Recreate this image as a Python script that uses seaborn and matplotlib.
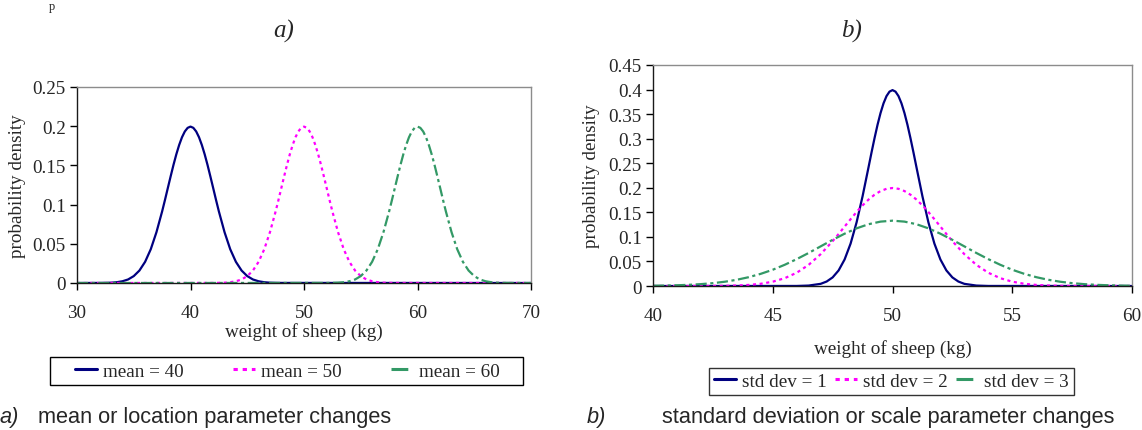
import numpy as np
import pandas as pd
import matplotlib
matplotlib.use("Agg")
import matplotlib.pyplot as plt
import seaborn as sns
from matplotlib.ticker import FuncFormatter, MultipleLocator
from matplotlib.lines import Line2D
from matplotlib.patches import Rectangle

# ---------------- data ----------------
# Panel a: normal curves with sd = 2, means 40 / 50 / 60
density_sd2 = [0, 0.0001, 0.0002, 0.0004, 0.0010, 0.0022, 0.0045, 0.0088, 0.0159, 0.0270,
               0.0431, 0.0648, 0.0913, 0.1059, 0.1210, 0.1360, 0.1506, 0.1641, 0.1760, 0.1859,
               0.1933, 0.1979, 0.1995, 0.1979, 0.1933, 0.1859, 0.1760, 0.1641, 0.1506, 0.1360,
               0.1210, 0.1059, 0.0913, 0.0648, 0.0431, 0.0270, 0.0159, 0.0088, 0.0045, 0.0022,
               0.0010, 0.0004, 0.0002, 0.0001, 0]

weight_mean40 = [30, 32, 32.5, 33, 33.5, 34, 34.5, 35, 35.5, 36,
                 36.5, 37, 37.5, 37.75, 38, 38.25, 38.5, 38.75, 39, 39.25,
                 39.5, 39.75, 40, 40.25, 40.5, 40.75, 41, 41.25, 41.5, 41.75,
                 42, 42.25, 42.5, 43, 43.5, 44, 44.5, 45, 45.5, 46,
                 46.5, 47, 47.5, 48, 70]
weight_mean50 = [30, 42, 42.5, 43, 43.5, 44, 44.5, 45, 45.5, 46,
                 46.5, 47, 47.5, 47.75, 48, 48.25, 48.5, 48.75, 49, 49.25,
                 49.5, 49.75, 50, 50.25, 50.5, 50.75, 51, 51.25, 51.5, 51.75,
                 52, 52.25, 52.5, 53, 53.5, 54, 54.5, 55, 55.5, 56,
                 56.5, 57, 57.5, 58, 70]
weight_mean60 = [30, 52, 52.5, 53, 53.5, 54, 54.5, 55, 55.5, 56,
                 56.5, 57, 57.5, 57.75, 58, 58.25, 58.5, 58.75, 59, 59.25,
                 59.5, 59.75, 60, 60.25, 60.5, 60.75, 61, 61.25, 61.5, 61.75,
                 62, 62.25, 62.5, 63, 63.5, 64, 64.5, 65, 65.5, 66,
                 66.5, 67, 67.5, 68, 70]

# Panel b: mean 50, sd = 1 / 2 / 3
weight_sd1 = [40, 46, 46.5, 47, 47.25, 47.5, 47.75, 48, 48.25, 48.5,
              48.75, 49, 49.125, 49.25, 49.375, 49.5, 49.625, 49.75, 49.875, 50,
              50.125, 50.25, 50.375, 50.5, 50.625, 50.75, 50.875, 51, 51.25, 51.5,
              51.75, 52, 52.25, 52.5, 52.75, 53, 53.5, 54, 60]
density_sd1 = [0, 0.0001, 0.0009, 0.0044, 0.0091, 0.0175, 0.0317, 0.0540, 0.0863, 0.1295,
               0.1826, 0.2420, 0.2721, 0.3011, 0.3282, 0.3521, 0.3719, 0.3867, 0.3958, 0.3989,
               0.3958, 0.3867, 0.3719, 0.3521, 0.3282, 0.3011, 0.2721, 0.2420, 0.1826, 0.1295,
               0.0863, 0.0540, 0.0317, 0.0175, 0.0091, 0.0044, 0.0009, 0.0001, 0]

weight_sd2 = [40, 42, 42.5, 43, 43.5, 44, 44.5, 45, 45.5, 46,
              46.5, 47, 47.5, 47.75, 48, 48.25, 48.5, 48.75, 49, 49.25,
              49.5, 49.75, 50, 50.25, 50.5, 50.75, 51, 51.25, 51.5, 51.75,
              52, 52.25, 52.5, 53, 53.5, 54, 54.5, 55, 55.5, 56,
              56.5, 57, 57.5, 58, 60]

weight_sd3 = [40.0, 40.5, 41.0, 41.5, 42.0, 42.5, 43.0, 43.5, 44.0, 44.5,
              45.0, 45.5, 46.0, 46.5, 47.0, 47.5, 48.0, 48.5, 49.0, 49.5,
              50.0, 50.5, 51.0, 51.5, 52.0, 52.5, 53.0, 53.5, 54.0, 54.5,
              55.0, 55.5, 56.0, 56.5, 57.0, 57.5, 58.0, 58.5, 59.0, 59.5,
              60.0]
density_sd3 = [0.0005, 0.0009, 0.0015, 0.0024, 0.0038, 0.0058, 0.0087, 0.0127, 0.0180, 0.0248,
               0.0331, 0.0432, 0.0547, 0.0673, 0.0807, 0.0940, 0.1065, 0.1174, 0.1258, 0.1311,
               0.1330, 0.1311, 0.1258, 0.1174, 0.1065, 0.0940, 0.0807, 0.0673, 0.0547, 0.0432,
               0.0331, 0.0248, 0.0180, 0.0127, 0.0087, 0.0058, 0.0038, 0.0024, 0.0015, 0.0009,
               0.0005]

labels_a = ["mean = 40", "mean = 50", "mean = 60"]
labels_b = ["std dev = 1", "std dev = 2", "std dev = 3"]

# ---------------- style ----------------
sns.set_theme(style="white")
plt.rcParams["font.family"] = ["Liberation Serif", "DejaVu Serif"]

NAVY = "#000080"
MAGENTA = "#FF00FF"
GREEN = "#339966"
LW = 1.6
styles = [
    dict(color=NAVY, ls="-", legls="-"),
    dict(color=MAGENTA, ls=(0, (1.4, 1.6)), legls=(0, (1.4, 1.6))),
    dict(color=GREEN, ls=(0, (5.0, 1.6, 1.4, 1.6)), legls=(2.0, (7.5, 5.0))),
]

W, H = 1142, 431
fig = plt.figure(figsize=(W / 100, H / 100), dpi=100)

def px_axes(x0, x1, ytop, ybot):
    return fig.add_axes([x0 / W, 1 - ybot / H, (x1 - x0) / W, (ybot - ytop) / H])

ax_a = px_axes(77, 531, 88, 284)
ax_b = px_axes(653, 1132, 66, 287)

FS = 13.8

def style_axes(ax):
    for side in ["top", "right"]:
        ax.spines[side].set_color("#8c8c8c")
        ax.spines[side].set_linewidth(1.0)
    for side in ["left", "bottom"]:
        ax.spines[side].set_color("#1a1a1a")
        ax.spines[side].set_linewidth(1.0)
    ax.tick_params(axis="both", which="major", direction="out", length=5,
                   width=1.0, color="black", labelsize=FS, pad=3,
                   bottom=True, left=True, top=False, right=False)
    ax.tick_params(axis="x", pad=10)
    ax.yaxis.set_major_formatter(FuncFormatter(lambda v, p: "%g" % round(v, 4)))
    ax.grid(False)

# Panel a
series_a = [(weight_mean40, density_sd2), (weight_mean50, density_sd2),
            (weight_mean60, density_sd2)]
for (xs, ys), st in zip(series_a, styles):
    sns.lineplot(x=xs, y=ys, ax=ax_a, color=st["color"], linewidth=LW,
                 legend=False, sort=False)
    ax_a.lines[-1].set_linestyle(st["ls"])
ax_a.set_xlim(30, 70)
ax_a.set_ylim(0, 0.25)
ax_a.xaxis.set_major_locator(MultipleLocator(10))
ax_a.yaxis.set_major_locator(MultipleLocator(0.05))
ax_a.set_xlabel("weight of sheep (kg)", fontsize=FS, labelpad=1)
ax_a.set_ylabel("probability density", fontsize=FS, labelpad=5)
style_axes(ax_a)

# Panel b
series_b = [(weight_sd1, density_sd1), (weight_sd2, density_sd2),
            (weight_sd3, density_sd3)]
for (xs, ys), st in zip(series_b, styles):
    sns.lineplot(x=xs, y=ys, ax=ax_b, color=st["color"], linewidth=LW,
                 legend=False, sort=False)
    ax_b.lines[-1].set_linestyle(st["ls"])
ax_b.set_xlim(40, 60)
ax_b.set_ylim(0, 0.45)
ax_b.xaxis.set_major_locator(MultipleLocator(5))
ax_b.yaxis.set_major_locator(MultipleLocator(0.05))
ax_b.set_xlabel("weight of sheep (kg)", fontsize=FS, labelpad=11)
ax_b.set_ylabel("probability density", fontsize=FS, labelpad=6)
style_axes(ax_b)

# Legends
def handle(st):
    return Line2D([], [], color=st["color"], lw=2.2, ls=st["legls"])

# legend a: framed box with three centred columns
fig.add_artist(Rectangle((50 / W, 1 - 386 / H), (523 - 50) / W, 28 / H,
                         transform=fig.transFigure, fill=False,
                         edgecolor="black", linewidth=1.0))
for lab, st, cx in zip(labels_a, styles, [129, 287, 445]):
    fig.legend([handle(st)], [lab], loc="center",
               bbox_to_anchor=(cx / W, 1 - 372 / H), fontsize=FS, frameon=False,
               handlelength=1.15, handletextpad=0.3, borderpad=0, borderaxespad=0)

leg_b = fig.legend([handle(st) for st in styles], labels_b, ncol=3,
                   bbox_to_anchor=((709 + 1074) / 2 / W, 1 - 382 / H),
                   loc="center", fontsize=FS, frameon=True, fancybox=False,
                   handlelength=1.15, handletextpad=0.3, borderpad=0.25,
                   borderaxespad=0, columnspacing=0.45)
leg_b.get_frame().set_edgecolor("black")
leg_b.get_frame().set_linewidth(1.0)

# Panel titles
fig.text(284 / W, 1 - 31 / H, "a)", ha="center", va="center", fontsize=18,
         style="italic")
fig.text(852 / W, 1 - 31 / H, "b)", ha="center", va="center", fontsize=18,
         style="italic")
# small letter at the top left edge
fig.text(52 / W, 1 - 1 / H, "p", ha="center", va="top", fontsize=9)

# Captions
CAP_FS = 15.7
sans = ["Liberation Sans", "DejaVu Sans"]
fig.text(0 / W, 1 - 418 / H, "a)", ha="left", va="center", fontsize=CAP_FS,
         style="italic", family=sans)
fig.text(38 / W, 1 - 418 / H, "mean or location parameter changes", ha="left",
         va="center", fontsize=CAP_FS, family=sans)
fig.text(587 / W, 1 - 418 / H, "b)", ha="left", va="center", fontsize=CAP_FS,
         style="italic", family=sans)
fig.text(662 / W, 1 - 418 / H, "standard deviation or scale parameter changes",
         ha="left", va="center", fontsize=CAP_FS, family=sans)

fig.savefig("out.png", dpi=100)
